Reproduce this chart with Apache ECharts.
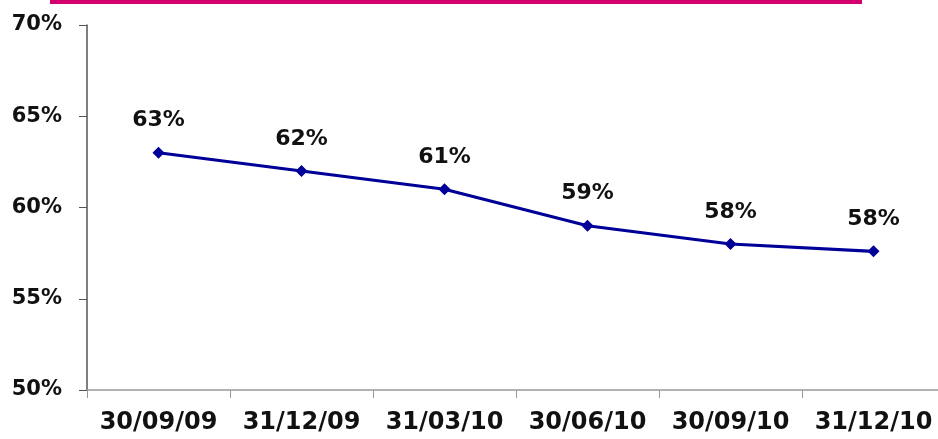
<!DOCTYPE html>
<html>
<head>
<meta charset="utf-8">
<script src="https://cdn.jsdelivr.net/npm/echarts@6/dist/echarts.min.js"></script>
<style>html,body{margin:0;padding:0;background:#fff;overflow:hidden}#c{width:946px;height:439px}</style>
</head>
<body>
<div id="c"></div>
<script>
const categories = ['30/09/09', '31/12/09', '31/03/10', '30/06/10', '30/09/10', '31/12/10'];
const values = [63, 62, 61, 59, 58, 57.6];
const yTicks = [50, 55, 60, 65, 70];

const chart = echarts.init(document.getElementById('c'));
const font = '"DejaVu Sans", sans-serif';
chart.setOption({
  animation: false,
  graphic: [{type: 'rect', shape: {x: 50, y: 0, width: 812, height: 4}, style: {fill: '#D4006E'}}],
  grid: {left: 87, top: 25, right: 1, height: 365},
  xAxis: {
    type: 'category', data: categories, boundaryGap: true,
    axisLine: {lineStyle: {color: '#999', width: 1.5}},
    axisTick: {show: true, length: 8, alignWithLabel: false, lineStyle: {color: '#999'}},
    axisLabel: {color: '#111', fontFamily: font, fontWeight: 'bold', fontSize: 24, margin: 21, interval: 0}
  },
  yAxis: {
    type: 'value', min: yTicks[0], max: yTicks[yTicks.length - 1], interval: 5,
    axisLine: {show: true, lineStyle: {color: '#555', width: 1.5}},
    axisTick: {show: true, length: 8, lineStyle: {color: '#555'}},
    splitLine: {show: false},
    axisLabel: {color: '#111', fontFamily: font, fontWeight: 'bold', fontSize: 21, margin: 25,
      formatter: v => v + '%'}
  },
  series: [{
    type: 'line', data: values,
    symbol: 'diamond', symbolSize: 12,
    lineStyle: {color: '#000099', width: 3.2},
    itemStyle: {color: '#000099'},
    label: {show: true, position: 'top', distance: 15, color: '#111', fontFamily: font,
      fontWeight: 'bold', fontSize: 22, formatter: p => Math.round(p.value) + '%'}
  }]
});
</script>
</body>
</html>
